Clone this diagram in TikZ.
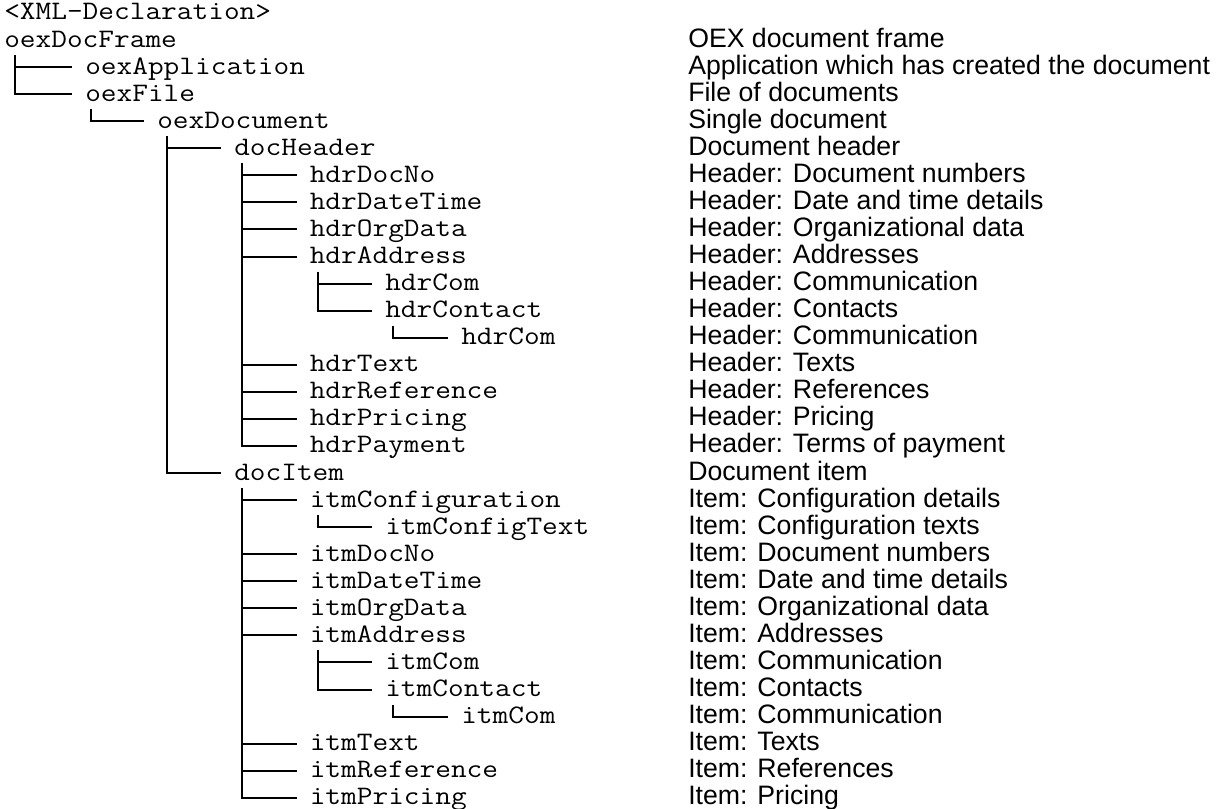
\documentclass[tikz,border=0pt]{standalone}
\usepackage{fontspec}
\setmainfont{Liberation Sans}
\setsansfont{Liberation Sans}
\setmonofont{Latin Modern Mono}[FakeStretch=1.1429]
\usetikzlibrary{calc}
\tikzset{
  mono/.style={anchor=base west, inner sep=0pt, font=\ttfamily\fontsize{20}{24}\selectfont},
  desc/.style={anchor=base west, inner sep=0pt, font=\sffamily\fontsize{20}{24}\selectfont},
  treeline/.style={draw=black, line width=1.5pt}
}
\newcommand\tedge[3]{\draw[treeline] ($(#3 |- #1.base)+(0,8)$) |- ($(#2.base west)+(-13,-7)$);}
\begin{document}
\begin{tikzpicture}[x=0.75pt,y=-0.75pt]
\useasboundingbox (0,0) rectangle (1220,809);
% column coordinates for the vertical tree lines
\coordinate (c0) at (15,0);
\coordinate (c1) at (90.6,0);
\coordinate (c2) at (166.5,0);
\coordinate (c3) at (242,0);
\coordinate (c4) at (318,0);
\coordinate (c5) at (393,0);
% tree nodes
\node[mono] (xml)   at (4,20)      {<XML-Declaration>};
\node[mono] (frame) at (4,47.06)   {oexDocFrame};
\node[mono] (app)   at (85,74.12)  {oexApplication};
\node[mono] (file)  at (85,101.18) {oexFile};
\node[mono] (doc)   at (157,128.24) {oexDocument};
\node[mono] (hdr)   at (234,155.3) {docHeader};
\node[mono] (hdocno) at (309.5,182.36) {hdrDocNo};
\node[mono] (hdate)  at (309.5,209.42) {hdrDateTime};
\node[mono] (horg)   at (309.5,236.48) {hdrOrgData};
\node[mono] (haddr)  at (309.5,263.54) {hdrAddress};
\node[mono] (haddrcom) at (385,290.6) {hdrCom};
\node[mono] (hcontact) at (385,317.66) {hdrContact};
\node[mono] (hcontactcom) at (461,344.72) {hdrCom};
\node[mono] (htext)  at (309.5,371.78) {hdrText};
\node[mono] (href)   at (309.5,398.84) {hdrReference};
\node[mono] (hprice) at (309.5,425.9) {hdrPricing};
\node[mono] (hpay)   at (309.5,452.96) {hdrPayment};
\node[mono] (item)   at (234,480.02) {docItem};
\node[mono] (iconf)  at (309.5,507.08) {itmConfiguration};
\node[mono] (iconftext) at (385,534.14) {itmConfigText};
\node[mono] (idocno) at (309.5,561.2) {itmDocNo};
\node[mono] (idate)  at (309.5,588.26) {itmDateTime};
\node[mono] (iorg)   at (309.5,615.32) {itmOrgData};
\node[mono] (iaddr)  at (309.5,642.38) {itmAddress};
\node[mono] (iaddrcom) at (385,669.44) {itmCom};
\node[mono] (icontact) at (385,696.5) {itmContact};
\node[mono] (icontactcom) at (461,723.56) {itmCom};
\node[mono] (itext)  at (309.5,750.62) {itmText};
\node[mono] (iref)   at (309.5,777.68) {itmReference};
\node[mono] (iprice) at (309.5,804.74) {itmPricing};
% descriptions
\node[desc] (d1)  at (688,47.06)  {OEX document frame};
\node[desc] (d2)  at (688,74.12)  {Application which has created the document};
\node[desc] (d3)  at (688,101.18) {File of documents};
\node[desc] (d4)  at (688,128.24) {Single document};
\node[desc] (d5)  at (688,155.3)  {Document header};
\node[desc] (d6)  at (688,182.36) {Header: Document numbers};
\node[desc] (d7)  at (688,209.42) {Header: Date and time details};
\node[desc] (d8)  at (688,236.48) {Header: Organizational data};
\node[desc] (d9)  at (688,263.54) {Header: Addresses};
\node[desc] (d10) at (688,290.6)  {Header: Communication};
\node[desc] (d11) at (688,317.66) {Header: Contacts};
\node[desc] (d12) at (688,344.72) {Header: Communication};
\node[desc] (d13) at (688,371.78) {Header: Texts};
\node[desc] (d14) at (688,398.84) {Header: References};
\node[desc] (d15) at (688,425.9)  {Header: Pricing};
\node[desc] (d16) at (688,452.96) {Header: Terms of payment};
\node[desc] (d17) at (688,480.02) {Document item};
\node[desc] (d18) at (688,507.08) {Item: Configuration details};
\node[desc] (d19) at (688,534.14) {Item: Configuration texts};
\node[desc] (d20) at (688,561.2)  {Item: Document numbers};
\node[desc] (d21) at (688,588.26) {Item: Date and time details};
\node[desc] (d22) at (688,615.32) {Item: Organizational data};
\node[desc] (d23) at (688,642.38) {Item: Addresses};
\node[desc] (d24) at (688,669.44) {Item: Communication};
\node[desc] (d25) at (688,696.5)  {Item: Contacts};
\node[desc] (d26) at (688,723.56) {Item: Communication};
\node[desc] (d27) at (688,750.62) {Item: Texts};
\node[desc] (d28) at (688,777.68) {Item: References};
\node[desc] (d29) at (688,804.74) {Item: Pricing};
% tree connectors
\tedge{frame}{app}{c0}
\tedge{frame}{file}{c0}
\tedge{file}{doc}{c1}
\tedge{doc}{hdr}{c2}
\tedge{doc}{item}{c2}
\tedge{hdr}{hdocno}{c3}
\tedge{hdr}{hdate}{c3}
\tedge{hdr}{horg}{c3}
\tedge{hdr}{haddr}{c3}
\tedge{haddr}{haddrcom}{c4}
\tedge{haddr}{hcontact}{c4}
\tedge{hcontact}{hcontactcom}{c5}
\tedge{hdr}{htext}{c3}
\tedge{hdr}{href}{c3}
\tedge{hdr}{hprice}{c3}
\tedge{hdr}{hpay}{c3}
\tedge{item}{iconf}{c3}
\tedge{iconf}{iconftext}{c4}
\tedge{item}{idocno}{c3}
\tedge{item}{idate}{c3}
\tedge{item}{iorg}{c3}
\tedge{item}{iaddr}{c3}
\tedge{iaddr}{iaddrcom}{c4}
\tedge{iaddr}{icontact}{c4}
\tedge{icontact}{icontactcom}{c5}
\tedge{item}{itext}{c3}
\tedge{item}{iref}{c3}
\tedge{item}{iprice}{c3}
\end{tikzpicture}
\end{document}
